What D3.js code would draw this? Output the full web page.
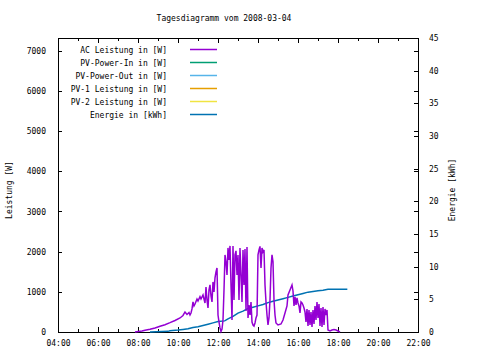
<!DOCTYPE html>
<html>
<head>
<meta charset="utf-8">
<script src="https://cdn.jsdelivr.net/npm/d3@7"></script>
<style>
  html, body { margin: 0; padding: 0; background: #fff; }
  svg { display: block; }
  text { font-family: "DejaVu Sans Mono", "Liberation Mono", monospace; font-size: 8px; fill: #000; }
</style>
</head>
<body>
<svg id="chart" width="480" height="360"></svg>
<script>
// ---- data ----
const titleText = "Tagesdiagramm vom 2008-03-04";
const seriesNames = ["AC Leistung in [W]", "PV-Power-In in [W]", "PV-Power-Out in [W]",
                     "PV-1 Leistung in [W]", "PV-2 Leistung in [W]", "Energie in [kWh]"];
const seriesColors = ["#9400d3", "#009e73", "#56b4e9", "#e69f00", "#f0e442", "#0072b2"];
const xTickLabels = ["04:00","06:00","08:00","10:00","12:00","14:00","16:00","18:00","20:00","22:00"];
const xMinorTickLabels = ["05:00","07:00","09:00","11:00","13:00","15:00","17:00","19:00","21:00"];
const yTicks = [0, 1000, 2000, 3000, 4000, 5000, 6000, 7000];
const y2Ticks = [0, 5, 10, 15, 20, 25, 30, 35, 40, 45];

const acTimes = ["07:51","08:00","08:12","08:21","08:36","08:51","09:06","09:21","09:36","09:51",
  "10:06","10:15","10:21","10:27","10:33","10:36","10:39","10:42","10:45","10:48","10:51","10:57",
  "11:00","11:06","11:09","11:15","11:21","11:24","11:27","11:30","11:33","11:36","11:39","11:42",
  "11:45","11:48","11:51","11:54","11:57","12:00","12:03","12:06","12:09","12:12","12:15","12:18",
  "12:21","12:24","12:27","12:30","12:33","12:36","12:39","12:42","12:45","12:48","12:51","12:54",
  "12:57","13:00","13:03","13:06","13:09","13:12","13:15","13:18","13:21","13:24","13:27","13:30",
  "13:33","13:36","13:39","13:42","13:45","13:48","13:51","13:54","13:57","14:00","14:03","14:06",
  "14:09","14:12","14:15","14:18","14:21","14:24","14:27","14:30","14:33","14:36","14:39","14:42",
  "14:45","14:48","14:51","14:54","15:00","15:09","15:15","15:21","15:27","15:30","15:36","15:42",
  "15:45","15:48","15:51","15:54","15:57","16:00","16:03","16:06","16:09","16:12","16:15","16:18",
  "16:21","16:24","16:27","16:30","16:33","16:36","16:39","16:42","16:45","16:48","16:51","16:54",
  "16:57","17:00","17:03","17:06","17:09","17:12","17:15","17:18","17:21","17:24","17:27","17:30",
  "17:36","17:42","17:48","17:54","18:00","18:06"];
const acValues = [0,12,25,42,67,100,142,182,232,286,
  349,411,498,436,486,423,473,573,747,648,697,822,
  772,879,822,922,722,1121,797,598,1046,1171,897,747,
  1246,996,1345,1495,1594,423,249,100,12,75,299,1046,
  1918,1744,1420,2092,1794,2142,1171,299,2142,797,1918,2018,
  1420,1918,797,2092,1420,747,2043,1171,2067,523,2117,349,
  672,423,747,249,174,149,224,349,423,1918,2043,2130,
  1594,2092,1993,2043,1171,747,423,174,349,797,1594,1918,
  1744,797,423,224,174,199,299,473,648,922,1046,1171,
  1021,648,872,672,847,722,648,473,747,722,672,598,
  498,249,573,149,548,174,498,125,548,199,648,299,
  747,349,697,149,598,125,623,174,573,423,548,50,
  25,50,62,50,25,0];

const energyTimes = ["08:36","09:30","09:36","10:00","10:15","10:30","10:45","11:00","11:15","11:30",
  "11:45","12:00","12:20","12:30","12:45","13:00","13:15","13:30","13:45","14:00","14:15","14:30",
  "14:45","15:00","15:15","15:30","15:45","16:00","16:15","16:30","16:45","17:00","17:15","17:30","18:28"];
const energyValues = [0,0.1,0.2,0.3,0.4,0.5,0.7,0.8,1.0,1.2,
  1.4,1.6,1.7,2.0,2.4,2.9,3.2,3.6,3.8,4.0,4.2,4.5,
  4.7,4.9,5.1,5.3,5.5,5.7,5.9,6.1,6.2,6.3,6.4,6.55,6.55];

// ---- chart ----
const toH = s => { const [h, m] = s.split(":").map(Number); return h + m / 60; };
const fmtH = h => String(Math.floor(h)).padStart(2, "0") + ":00";

const L = 58, R = 418, T = 38, B = 332;
const svg = d3.select("#chart");

const x = d3.scaleLinear().domain([4, 22]).range([L, R]);
const y = d3.scaleLinear().domain([0, 7316]).range([B, T]);
const y2 = d3.scaleLinear().domain([0, 45]).range([B, T]);

const majorX = xTickLabels.map(toH);
const minorX = xMinorTickLabels.map(toH);

function styleAxis(g) {
  g.select(".domain").remove();
  g.selectAll("line").attr("stroke", "#000").attr("shape-rendering", "crispEdges");
  g.selectAll("text").attr("font-family", null).attr("font-size", null);
}

// bottom axis
svg.append("g").attr("transform", `translate(0,${B})`)
  .call(d3.axisBottom(x).tickValues(majorX).tickSize(-5).tickPadding(8).tickFormat(fmtH))
  .call(styleAxis);
svg.append("g").attr("transform", `translate(0,${B})`)
  .call(d3.axisBottom(x).tickValues(minorX).tickSize(-3).tickFormat(""))
  .call(styleAxis);
// top mirror
svg.append("g").attr("transform", `translate(0,${T})`)
  .call(d3.axisTop(x).tickValues(majorX).tickSize(-5).tickFormat(""))
  .call(styleAxis);
svg.append("g").attr("transform", `translate(0,${T})`)
  .call(d3.axisTop(x).tickValues(minorX).tickSize(-3).tickFormat(""))
  .call(styleAxis);
// left axis
svg.append("g").attr("transform", `translate(${L},0)`)
  .call(d3.axisLeft(y).tickValues(yTicks).tickSize(-4).tickPadding(12).tickFormat(d3.format("d")))
  .call(styleAxis);
// right mirror of y
svg.append("g").attr("transform", `translate(${R},0)`)
  .call(d3.axisRight(y).tickValues(yTicks).tickSize(-4).tickFormat(""))
  .call(styleAxis);
// right y2 axis
svg.append("g").attr("transform", `translate(${R},0)`)
  .call(d3.axisRight(y2).tickValues(y2Ticks).tickSize(-4).tickPadding(11).tickFormat(d3.format("d")))
  .call(styleAxis);

// frame
svg.append("rect").attr("x", L).attr("y", T).attr("width", R - L).attr("height", B - T)
  .attr("fill", "none").attr("stroke", "#000").attr("stroke-width", 1)
  .attr("shape-rendering", "crispEdges");

// title and axis titles
svg.append("text").attr("x", 224).attr("y", 21).attr("text-anchor", "middle").text(titleText);
svg.append("text").attr("transform", "translate(12,190) rotate(-90)")
  .attr("text-anchor", "middle").text("Leistung [W]");
svg.append("text").attr("transform", "translate(455,190) rotate(-90)")
  .attr("text-anchor", "middle").text("Energie [kWh]");

// data lines
const acData = acTimes.map((t, i) => ({ h: toH(t), v: acValues[i] }));
const enData = energyTimes.map((t, i) => ({ h: toH(t), v: energyValues[i] }));

svg.append("path").datum(enData)
  .attr("fill", "none").attr("stroke", seriesColors[5]).attr("stroke-width", 1.5)
  .attr("d", d3.line().x(d => x(d.h)).y(d => y2(d.v)));

svg.append("path").datum(acData)
  .attr("fill", "none").attr("stroke", seriesColors[0]).attr("stroke-width", 1.5)
  .attr("stroke-linejoin", "miter")
  .attr("d", d3.line().x(d => x(d.h)).y(d => y(d.v)));

// legend
const leg = svg.append("g");
seriesNames.forEach((name, i) => {
  const yy = 49.5 + i * 13;
  leg.append("text").attr("x", 167).attr("y", yy + 3).attr("text-anchor", "end").text(name);
  leg.append("line").attr("x1", 190).attr("x2", 217).attr("y1", yy).attr("y2", yy)
    .attr("stroke", seriesColors[i]).attr("stroke-width", 1.5);
});
</script>
</body>
</html>
